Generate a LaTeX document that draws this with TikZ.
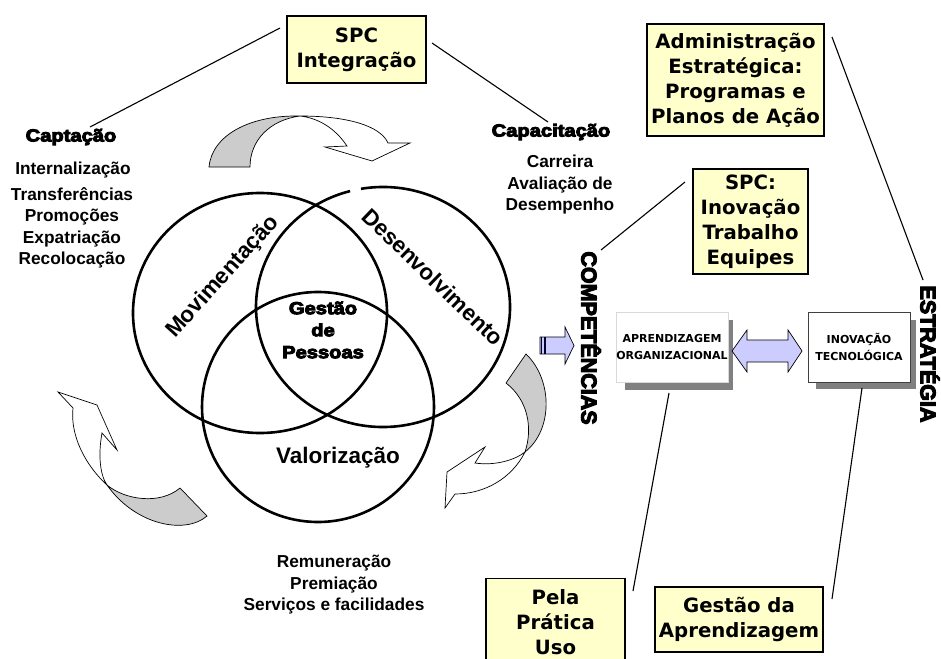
\documentclass[tikz,border=0pt]{standalone}
\usepackage{fontspec}
\setmainfont{Liberation Sans}
\newfontfamily\boxfont{DejaVu Sans}
\newfontfamily\blackfont[FakeBold=5]{Liberation Sans Bold}
\definecolor{ybox}{HTML}{FFFFCC}
\definecolor{lav}{HTML}{CCCCFF}
\definecolor{arrgray}{HTML}{CCCCCC}
\definecolor{shad}{HTML}{808080}
\begin{document}
\begin{tikzpicture}[x=1pt,y=1pt,
  ybox/.style={draw=black, line width=1.3pt, fill=ybox, align=center, inner sep=0pt,
    font=\boxfont\bfseries\fontsize{19.7}{25}\selectfont},
  venn/.style={line width=2.6pt},
  conn/.style={line width=1.1pt},
  lbl/.style={align=center, font=\bfseries\fontsize{17.3}{21.5}\selectfont, inner sep=0pt},
  big/.style={align=center, font=\bfseries\fontsize{22.5}{26}\selectfont, inner sep=0pt},
  heavy/.style={align=center, font=\blackfont\fontsize{17.5}{22}\selectfont, inner sep=0pt, xscale=1.15},
  vert/.style={font=\blackfont\fontsize{21.5}{22}\selectfont, inner sep=0pt, rotate=-90},
  wbox/.style={fill=white, align=center, inner sep=0pt,
    font=\boxfont\bfseries\fontsize{11}{17}\selectfont, minimum width=110pt, minimum height=70pt},
  curvarr/.style={draw=black, line width=0.7pt},
  lavarr/.style={draw=black, line width=0.7pt, fill=lav}
]
\useasboundingbox (0,0) rectangle (941,-658);
\fill[white] (0,0) rectangle (941,-658);

% ---- Venn circles
\draw[venn] (260,-313) ellipse[x radius=127, y radius=120];
\draw[venn] (383,-307) ++(100:127 and 120) arc[start angle=100, end angle=-255, x radius=127, y radius=120];
\draw[venn] (318,-407) ellipse[x radius=116, y radius=115];

\node[big, rotate=48] (mov) at (223,-277) {Movimentação};
\node[big, rotate=-44] (des) at (433,-277) {Desenvolvimento};
\node[big] (val) at (338,-458) {Valorização};
\node[heavy] (gest) at (323,-330) {Gestão\\de\\Pessoas};

% ---- curved arrows
% top
\draw[curvarr, fill=white] (300,-116) .. controls (345,-116) and (380,-125) .. (388,-143)
  -- (410,-143) -- (372,-161) -- (325,-147) -- (347,-146)
  .. controls (335,-128) and (318,-118) .. (300,-116) -- cycle;
\draw[curvarr, fill=arrgray] (209,-167) .. controls (212,-135) and (250,-115) .. (300,-116)
  .. controls (270,-120) and (250,-140) .. (250,-167) -- cycle;
% right
\draw[curvarr, fill=white] (525,-452) .. controls (512,-478) and (485,-494) .. (455,-494)
  -- (445,-508) -- (447,-472) -- (485,-447) -- (475,-463)
  .. controls (495,-466) and (515,-460) .. (525,-452) -- cycle;
\draw[curvarr, fill=arrgray] (506,-383) -- (526,-354) .. controls (553,-380) and (553,-430) .. (525,-452)
  .. controls (533,-428) and (528,-400) .. (506,-383) -- cycle;
% left
\draw[curvarr, fill=white] (107,-485) .. controls (85,-465) and (70,-435) .. (73,-408)
  -- (58,-392) -- (97,-405) -- (117,-450) -- (102,-433)
  .. controls (98,-455) and (100,-475) .. (107,-485) -- cycle;
\draw[curvarr, fill=arrgray] (180,-488) -- (207,-516) .. controls (185,-535) and (135,-525) .. (107,-485)
  .. controls (125,-500) and (160,-505) .. (180,-488) -- cycle;

% ---- left texts
\node[heavy] (capt) at (71,-137) {Captação};
\node[lbl] (intern) at (73,-170) {Internalização};
\node[lbl] (transf) at (72,-228) {Transferências\\Promoções\\Expatriação\\Recolocação};
\node[heavy] (capac) at (551,-132) {Capacitação};
\node[lbl] (carr) at (560,-185) {Carreira\\Avaliação de\\Desempenho};
\node[lbl] (remu) at (334,-585) {Remuneração\\Premiação\\Serviços e facilidades};

% ---- yellow boxes
\node[ybox, minimum width=139pt, minimum height=67pt] (spc1) at (356.5,-49.5) {SPC\\Integração};
\node[ybox, minimum width=177pt, minimum height=112pt] (adm) at (735.5,-80) {Administração\\Estratégica:\\Programas e\\Planos de Ação};
\node[ybox, minimum width=115pt, minimum height=105pt] (spc2) at (750.5,-221.5) {SPC:\\Inovação\\Trabalho\\Equipes};
\node[ybox, minimum width=139pt, minimum height=86pt, anchor=north] (pela) at (555.5,-578) {Pela\\Prática\\Uso};
\node[ybox, minimum width=168pt, minimum height=65pt] (gapr) at (739,-619.5) {Gestão da\\Aprendizagem};

% ---- vertical labels
\node[vert] (comp) at (591,-338) {COMPETÊNCIAS};
\node[vert] (estr) at (930,-354) {ESTRATÉGIA};

% ---- shadowed boxes
\fill[shad] (625,-320) rectangle (733,-390);
\node[wbox, draw=black!15, line width=0.8pt, minimum width=112pt] (apr) at (672,-347) {APRENDIZAGEM\\ORGANIZACIONAL};
\fill[shad] (816,-320) rectangle (916,-389);
\node[wbox, draw=black!75, line width=0.8pt, minimum width=102pt] (inov) at (859,-347) {INOVAÇÃO\\TECNOLÓGICA};

% ---- lavender arrows
\draw[lavarr] (540,-337) -- (565,-337) -- (565,-327) -- (574,-345.5) -- (565,-364) -- (565,-354) -- (540,-354) -- cycle;
\draw[line width=1.5pt, black!80!blue] (541.5,-337) -- (541.5,-354);
\draw[line width=1.2pt, black!80!blue] (545,-337) -- (545,-354);
\draw[lavarr] (732,-351) -- (747,-330) -- (747,-340) -- (788,-340) -- (788,-330) -- (802,-351)
  -- (788,-372) -- (788,-362) -- (747,-362) -- (747,-372) -- cycle;

% ---- connector lines
\coordinate (l1a) at (280,-28); \coordinate (l1b) at (90,-127);
\coordinate (l2a) at (432,-43); \coordinate (l2b) at (548,-122);
\coordinate (l3a) at (832,-37); \coordinate (l3b) at (923,-280);
\coordinate (l4a) at (685,-182); \coordinate (l4b) at (601,-250);
\coordinate (l5a) at (669,-393); \coordinate (l5b) at (633,-591);
\coordinate (l6a) at (862,-388); \coordinate (l6b) at (832,-599);
\draw[conn] (l1a) -- (l1b);
\draw[conn] (l2a) -- (l2b);
\draw[conn] (l3a) -- (l3b);
\draw[conn] (l4a) -- (l4b);
\draw[conn] (l5a) -- (l5b);
\draw[conn] (l6a) -- (l6b);
\end{tikzpicture}
\end{document}
